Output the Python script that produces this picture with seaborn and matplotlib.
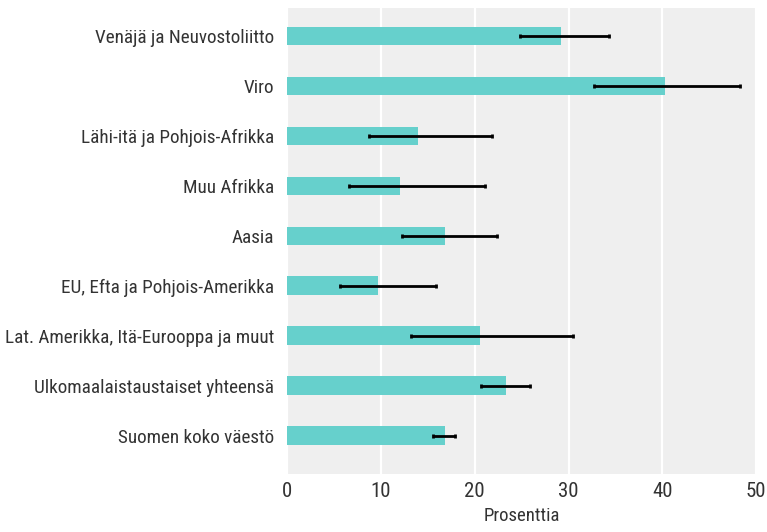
import numpy as np
import pandas as pd
import matplotlib
matplotlib.use("Agg")
import matplotlib.pyplot as plt
import seaborn as sns

# Arvot luettu kuvasta (prosenttia)
alueet = ["Venäjä ja Neuvostoliitto", "Viro", "Lähi-itä ja Pohjois-Afrikka",
          "Muu Afrikka", "Aasia", "EU, Efta ja Pohjois-Amerikka",
          "Lat. Amerikka, Itä-Eurooppa ja muut",
          "Ulkomaalaistaustaiset yhteensä", "Suomen koko väestö"]
osuus = [29.2, 40.3, 14.0, 12.1, 16.8, 9.7, 20.6, 23.3, 16.8]
ala_raja = [24.8, 32.7, 8.7, 6.6, 12.3, 5.7, 13.2, 20.7, 15.6]
yla_raja = [34.3, 48.3, 21.8, 21.1, 22.4, 15.9, 30.5, 25.9, 17.9]

df = pd.DataFrame({"alue": alueet, "osuus": osuus,
                   "ala": ala_raja, "yla": yla_raja})

sns.set_theme(style="darkgrid")
plt.rcParams["font.family"] = ["Roboto Condensed", "DejaVu Sans"]

fig, ax = plt.subplots(figsize=(7.67, 5.32), dpi=100)
fig.subplots_adjust(left=0.374, right=0.986, top=0.985, bottom=0.109)

sns.barplot(data=df, x="osuus", y="alue", color="#66d0cc", width=0.37,
            saturation=1, linewidth=0, ax=ax)
ypos = np.arange(len(df))
ax.errorbar(df["osuus"], ypos,
            xerr=[df["osuus"] - df["ala"], df["yla"] - df["osuus"]],
            fmt="none", ecolor="black", elinewidth=2, capsize=1.5,
            capthick=2)

ax.set_facecolor("#efefef")
ax.grid(axis="x", color="white", linewidth=1.6)
ax.grid(axis="y", visible=False)
ax.set_xlim(0, 49.8)
ax.set_ylim(8.77, -0.56)
ax.set_xticks([0, 10, 20, 30, 40, 50])
ax.set_xlabel("Prosenttia", fontsize=13.5, color="#333333", labelpad=4)
ax.set_ylabel("")
ax.tick_params(axis="y", labelsize=13.8, colors="#333333", length=0, pad=9)
ax.tick_params(axis="x", labelsize=15, colors="#333333", length=0, pad=6)
for s in ax.spines.values():
    s.set_visible(False)

fig.savefig("out.png", dpi=100, facecolor="white")
